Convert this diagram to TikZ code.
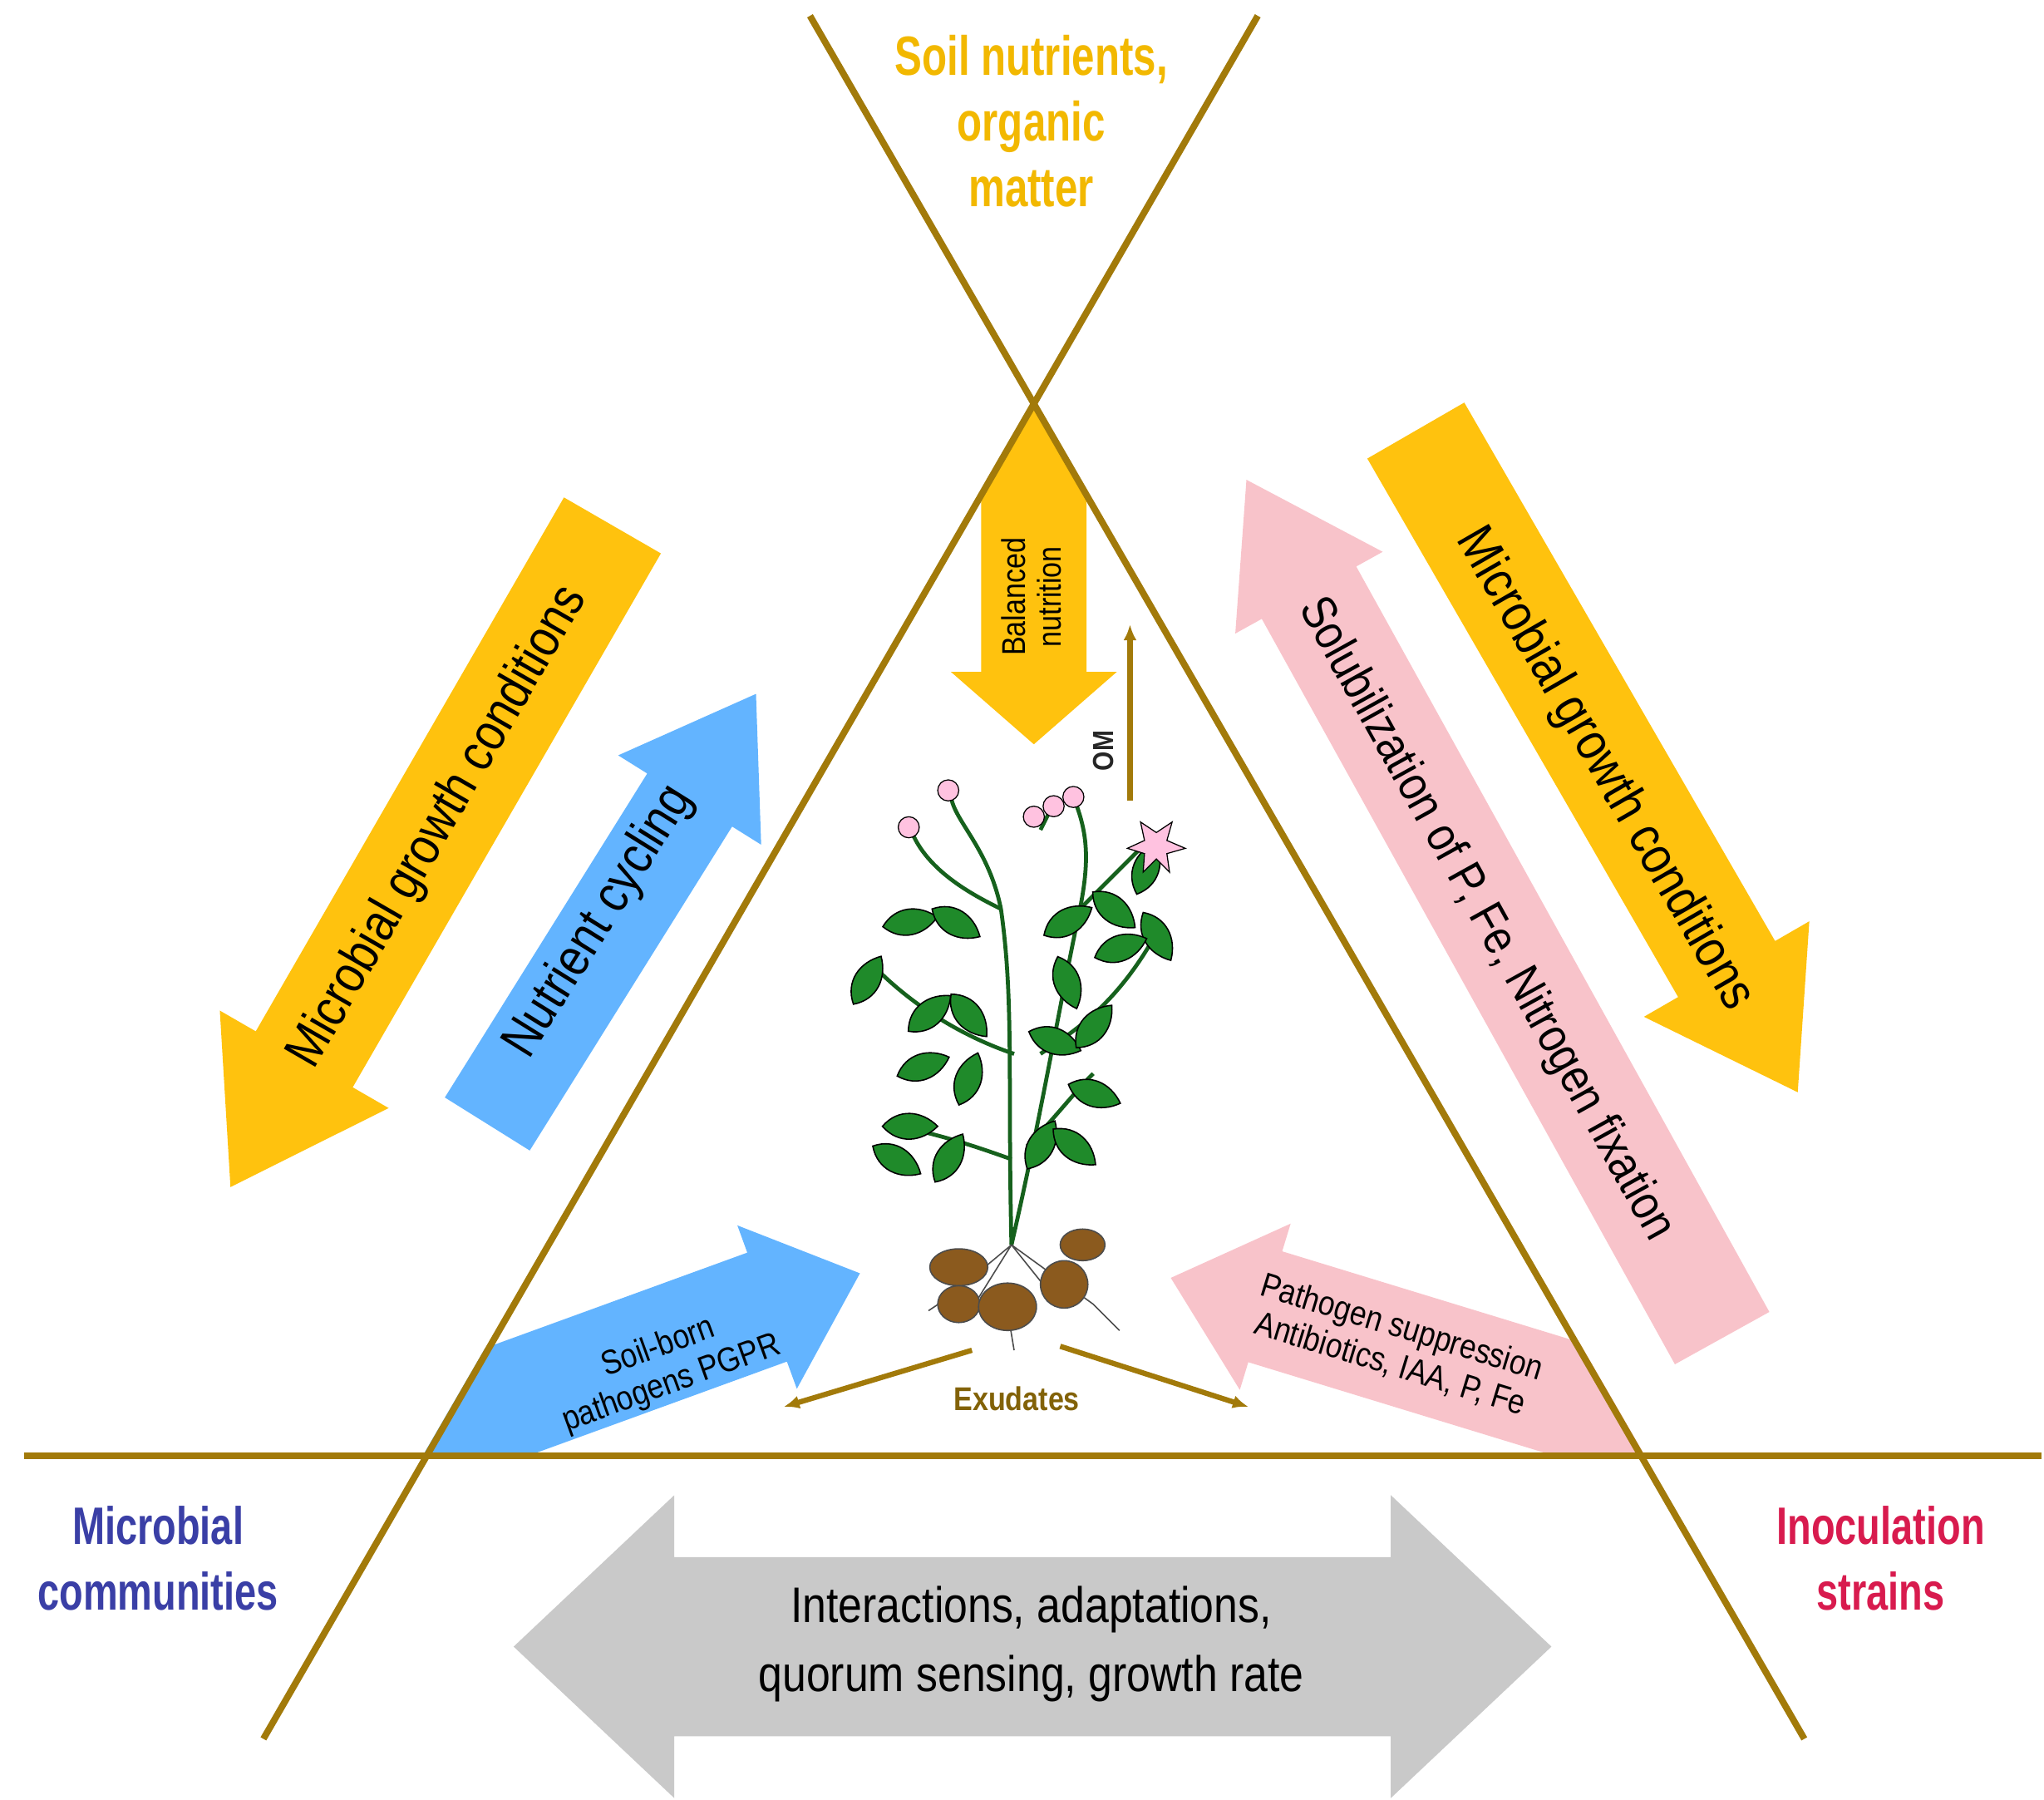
\documentclass[tikz,border=0pt]{standalone}
\usepackage{fontspec}
\setmainfont{Liberation Sans}[FakeStretch=0.86]
\newfontfamily\headfont{Liberation Sans Bold}[FakeStretch=0.74]
\definecolor{ylw}{HTML}{FFC20E}
\definecolor{blu}{HTML}{63B4FF}
\definecolor{pnk}{HTML}{F8C3CA}
\definecolor{gry}{HTML}{C9C9C9}
\definecolor{brn}{HTML}{A27A0A}
\definecolor{tuber}{HTML}{8B5A1E}
\definecolor{leaf}{HTML}{1F8A2A}
\definecolor{mcblue}{HTML}{3A3FA6}
\definecolor{isred}{HTML}{D81B4E}
\definecolor{headylw}{HTML}{F2B800}
\newcommand{\bigarr}[8]{% x y dir L body head headlen color
\begin{scope}[shift={(#1,#2)},rotate=#3]
\fill[#8] (-#4/2,-#5/2) -- (#4/2-#7,-#5/2) -- (#4/2-#7,-#6/2) -- (#4/2,0) -- (#4/2-#7,#6/2) -- (#4/2-#7,#5/2) -- (-#4/2,#5/2) -- cycle;
\end{scope}}
\tikzset{
 bigtxt/.style={font=\fontsize{40}{44}\selectfont, align=center, inner sep=0},
 midtxt/.style={font=\fontsize{26}{29}\selectfont, align=center, inner sep=0},
 border/.style={brn, line width=5pt},
 thinarr/.style={brn, line width=4pt, -{Latex[length=12pt,width=10pt]}},
 lf/.style={fill=leaf, draw=black, line width=1pt},
 stem/.style={draw=leaf!70!black, line width=3pt},
 fl/.style={fill=pink!80!magenta!60, draw=black, line width=0.8pt},
 tb/.style={fill=tuber, draw=black!70, line width=1pt},
 hd/.style={align=center, inner sep=0}
}
\usetikzlibrary{arrows.meta}
\begin{document}
\begin{tikzpicture}[x=1pt,y=-1pt]
\useasboundingbox (0,0) rectangle (1552,1366);
% gray double arrow
\fill[gry] (390,1250) -- (512,1135) -- (512,1182) -- (1056,1182) -- (1056,1135) -- (1178,1250) -- (1056,1365) -- (1056,1318) -- (512,1318) -- (512,1365) -- cycle;
\node[bigtxt, font=\fontsize{38}{52}\selectfont] (inter) at (783,1248) {Interactions, adaptations,\\quorum sensing, growth rate};
% outside arrows
\bigarr{320}{650}{240}{580}{85}{148}{112}{ylw}
\node[bigtxt, rotate=60] (mgc1) at (333,628) {Microbial growth conditions};
\bigarr{472}{690}{58}{385}{76}{128}{95}{blu}
\node[bigtxt, rotate=58] (nc) at (455,700) {Nutrient cycling};
\bigarr{1220}{578}{-60}{580}{85}{145}{108}{ylw}
\node[bigtxt, rotate=-60] (mgc2) at (1218,584) {Microbial growth conditions};
\bigarr{1127}{690}{119}{745}{82}{128}{98}{pnk}
\node[bigtxt, font=\fontsize{37}{40}\selectfont, rotate=-61] (sol) at (1128,698) {Solubilization of P, Fe, Nitrogen fixation};
% clipped inner arrows
\begin{scope}
\clip (785,305) -- (321,1105) -- (1249,1105) -- cycle;
\bigarr{465}{1035}{20}{400}{88}{132}{75}{blu}
\bigarr{1085}{1030}{163}{410}{88}{132}{75}{pnk}
\bigarr{785}{430}{-90}{270}{80}{126}{55}{ylw}
\end{scope}
\node[midtxt, rotate=20] (sbp) at (505,1037) {Soil-born\\pathogens PGPR};
\node[midtxt, rotate=-17] (ps) at (1060,1022) {Pathogen suppression\\Antibiotics, IAA, P, Fe};
\node[midtxt, rotate=90, font=\fontsize{25}{27}\selectfont] (bn) at (783,453) {Balanced\\nutrition};
% lines
\draw[border] (615,12) -- (1370,1320);
\draw[border] (955,12) -- (200,1320);
\draw[border] (18,1105) -- (1550,1105);
% OM arrow
\coordinate (om1) at (858,608); \coordinate (om2) at (858,474);
\draw[thinarr] (om1) -- (om2);
\node[font=\bfseries\fontsize{22}{24}\selectfont, rotate=90, text=black!85] (om) at (838,570) {OM};
% exudates
\coordinate (e0) at (738,1025); \coordinate (e1) at (595,1068);
\coordinate (f0) at (805,1022); \coordinate (f1) at (948,1068);
\draw[thinarr] (e0) -- (e1);
\draw[thinarr] (f0) -- (f1);
\node[font=\bfseries\fontsize{25}{27}\selectfont, text=brn!80!black] (ex) at (772,1062) {Exudates};
% plant
\draw[stem] (768,945) .. controls (765,820) and (770,760) .. (760,690) .. controls (750,640) and (720,620) .. (722,600);
\draw[stem] (768,945) .. controls (790,850) and (805,760) .. (820,690) .. controls (828,650) and (825,630) .. (815,605);
\draw[stem] (760,690) .. controls (740,680) and (700,660) .. (690,625);
\draw[stem] (820,690) .. controls (840,670) and (860,650) .. (875,635);
\draw[stem] (790,630) -- (800,610);
\draw[stem] (770,800) .. controls (740,790) and (700,770) .. (665,735);
\draw[stem] (790,800) .. controls (820,780) and (850,760) .. (880,705);
\draw[stem] (768,880) .. controls (740,870) and (710,860) .. (680,855);
\draw[stem] (780,870) .. controls (800,850) and (815,830) .. (830,815);
\foreach \x/\y/\a in {658/745/60, 690/700/10, 725/700/-30, 705/770/40, 735/770/-50, 700/810/20, 735/820/70, 690/855/0, 720/880/60, 680/880/-30, 810/700/30, 845/690/-40, 870/660/70, 878/710/-60, 850/720/20, 800/790/-20, 830/780/50, 810/745/-70, 830/830/-20, 790/870/60, 815/870/-40}
  \draw[lf, rotate around={\a:(\x,\y)}] (\x-20,\y) .. controls (\x-8,\y-14) and (\x+10,\y-12) .. (\x+22,\y) .. controls (\x+10,\y+12) and (\x-8,\y+14) .. (\x-20,\y) -- cycle;
\foreach \x/\y in {720/600, 785/620, 815/605, 690/628, 800/612}
  \draw[fl] (\x,\y) circle (8pt);
\draw[fl] (878,632) -- ++(12,-8) -- ++(-4,14) -- ++(14,6) -- ++(-14,4) -- ++(2,14) -- ++(-10,-10) -- ++(-10,10) -- ++(1,-14) -- ++(-13,-4) -- ++(13,-6) -- ++(-3,-14) -- cycle;
\draw[black!70, line width=1pt] (768,945) -- (740,990) (768,945) -- (800,985) (768,945) -- (830,990) -- (850,1010) (768,945) -- (720,985) -- (705,995) (765,995) -- (770,1025);
\foreach \x/\y/\rx/\ry in {728/962/22/14, 728/990/16/14, 765/992/22/18, 808/975/18/18, 822/945/17/12}
  \draw[tb] (\x,\y) ellipse (\rx pt and \ry pt);
% labels
\node[hd, text=headylw, font=\headfont\fontsize{42}{50}\selectfont] (soil) at (783,92) {Soil nutrients,\\organic\\matter};
\node[hd, text=mcblue, font=\headfont\fontsize{40}{50}\selectfont] (mc) at (120,1183) {Microbial\\communities};
\node[hd, text=isred, font=\headfont\fontsize{40}{50}\selectfont] (is) at (1428,1183) {Inoculation\\strains};
\end{tikzpicture}
\end{document}
